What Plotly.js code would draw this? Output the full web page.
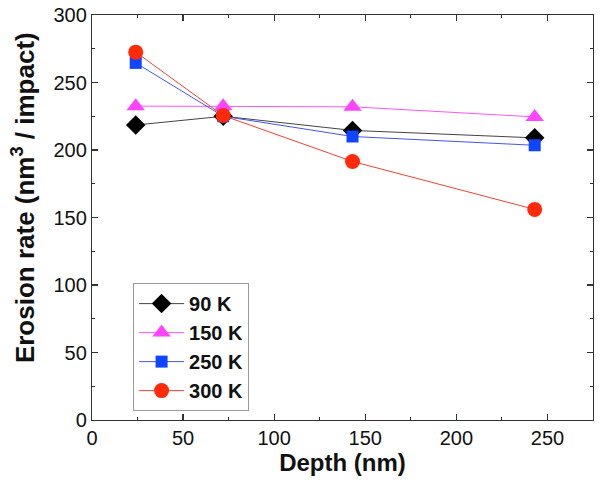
<!DOCTYPE html>
<html>
<head>
<meta charset="utf-8">
<script src="https://cdn.plot.ly/plotly-3.0.1.min.js"></script>
<style>html,body{margin:0;padding:0;background:#fff;}#chart{width:601px;height:485px;}</style>
</head>
<body>
<div id="chart"></div>
<script>
const depth = [24, 72, 143, 243];
const k90 = [218.5, 225, 214.5, 209];
const k150 = [232.5, 232.5, 232, 224.5];
const k250 = [264.5, 225, 210, 203.5];
const k300 = [272.5, 225.5, 191.5, 156];
const seriesNames = ['90 K', '150 K', '250 K', '300 K'];
const xTitle = 'Depth (nm)';
const yTitle = 'Erosion rate (nm<sup>3</sup> / impact)';

const font = 'Arial, "Liberation Sans", sans-serif';
function tr(y, name, lineColor, markerColor, symbol, size) {
  return {
    x: depth, y: y, name: '<b>' + name + '</b>', type: 'scatter', mode: 'lines+markers',
    line: {color: lineColor, width: 1},
    marker: {color: markerColor, symbol: symbol, size: size, line: {width: 0}}
  };
}
const data = [
  tr(k90, seriesNames[0], '#444444', '#000000', 'diamond', 15),
  tr(k150, seriesNames[1], '#ff55ff', '#ff44ff', 'triangle-up', 16),
  tr(k250, seriesNames[2], '#4455ee', '#1144ff', 'square', 12),
  tr(k300, seriesNames[3], '#ee4433', '#ff2a0a', 'circle', 15)
];
const axisCommon = {
  showgrid: false, zeroline: false, showline: true, mirror: 'ticks',
  linecolor: '#333', linewidth: 1.2, ticks: 'inside', ticklen: 6, tickwidth: 1.2, tickcolor: '#333',
  tickfont: {family: font, size: 20, color: '#111'},
  minor: {ticks: 'inside', ticklen: 3, tickwidth: 1, tickcolor: '#333', dtick: 25}
};
const layout = {
  width: 601, height: 485,
  margin: {l: 92, r: 8, t: 15, b: 65},
  paper_bgcolor: '#fff', plot_bgcolor: '#fff',
  showlegend: true,
  xaxis: Object.assign({}, axisCommon, {
    range: [0, 275], dtick: 50, tick0: 0,
    title: {text: '<b>' + xTitle + '</b>', font: {family: font, size: 24, color: '#111'}, standoff: 4}
  }),
  yaxis: Object.assign({}, axisCommon, {
    range: [0, 300], dtick: 50, tick0: 0,
    minor: Object.assign({}, axisCommon.minor, {dtick: 25})
  }),
  annotations: [{
    text: '<b>' + yTitle + '</b>', textangle: -90, showarrow: false,
    xref: 'paper', yref: 'paper', x: -0.138, y: 0.55, xanchor: 'center', yanchor: 'middle',
    font: {family: font, size: 26, color: '#111'}
  }],
  legend: {
    x: 0.082, y: 0.338, xanchor: 'left', yanchor: 'top',
    bordercolor: '#999', borderwidth: 1, bgcolor: '#fff',
    font: {family: font, size: 20, color: '#111'},
    tracegroupgap: 0, itemwidth: 45
  }
};
Plotly.newPlot('chart', data, layout, {displayModeBar: false, staticPlot: true});
</script>
</body>
</html>
